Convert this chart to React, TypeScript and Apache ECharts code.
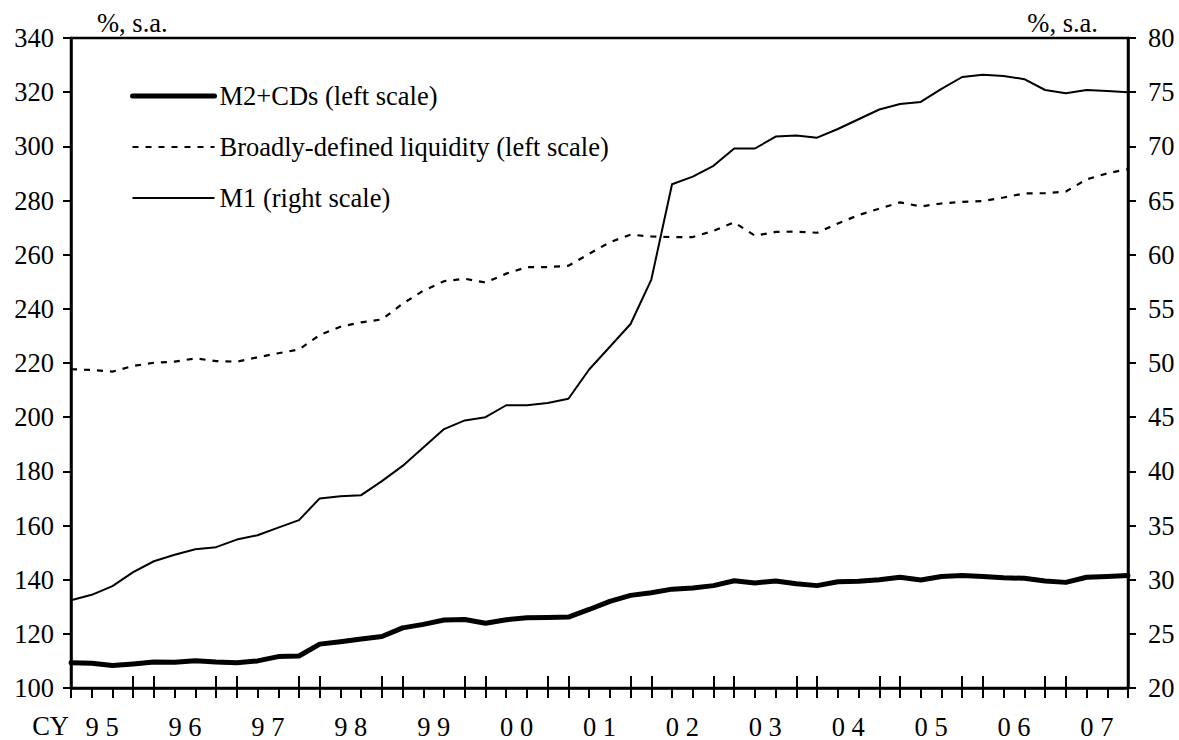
import React, { useEffect, useRef } from 'react';
import * as echarts from 'echarts';

const FONT = '"Liberation Serif", "Times New Roman", serif';
const FS = 26.5;

const years = ['1995', '1996', '1997', '1998', '1999', '2000', '2001', '2002', '2003', '2004', '2005', '2006', '2007'];
const quarterNames = ['Q1', 'Q2', 'Q3', 'Q4'];
const quarters = years.flatMap((y) => quarterNames.map((q) => `${y}${q}`));
const yearLabels = ['9 5', '9 6', '9 7', '9 8', '9 9', '0 0', '0 1', '0 2', '0 3', '0 4', '0 5', '0 6', '0 7'];

const seriesNames = ['M2+CDs (left scale)', 'Broadly-defined liquidity (left scale)', 'M1 (right scale)'];

const m2cds = [
  109.3, 109.1, 108.3, 108.9, 109.6, 109.5, 110.1, 109.6,
  109.3, 110.0, 111.6, 111.8, 116.2, 117.1, 118.1, 119.0,
  122.2, 123.5, 125.1, 125.3, 123.9, 125.2, 125.9, 126.0,
  126.2, 129.0, 132.0, 134.2, 135.2, 136.5, 136.9, 137.8,
  139.6, 138.8, 139.5, 138.5, 137.8, 139.2, 139.4, 140.0,
  140.9, 139.9, 141.2, 141.5, 141.2, 140.7, 140.5, 139.5,
  139.0, 140.9, 141.2, 141.5,
];

const broadLiquidity = [
  217.7, 217.4, 216.8, 218.9, 220.1, 220.5, 221.7, 220.7,
  220.5, 222.1, 223.6, 225.0, 230.3, 233.4, 235.0, 236.1,
  241.9, 246.7, 250.2, 251.1, 249.7, 253.0, 255.4, 255.4,
  255.9, 260.3, 264.6, 267.4, 266.7, 266.5, 266.5, 268.8,
  271.9, 267.0, 268.4, 268.5, 268.1, 271.5, 274.6, 277.0,
  279.3, 277.8, 278.9, 279.5, 279.8, 281.1, 282.6, 282.7,
  283.3, 287.8, 290.0, 291.6,
];

const m1 = [
  28.1, 28.6, 29.4, 30.7, 31.7, 32.3, 32.8, 33.0,
  33.7, 34.1, 34.8, 35.5, 37.5, 37.7, 37.8, 39.1,
  40.5, 42.2, 43.9, 44.7, 45.0, 46.1, 46.1, 46.3,
  46.7, 49.4, 51.5, 53.6, 57.7, 66.5, 67.2, 68.2,
  69.8, 69.8, 70.9, 71.0, 70.8, 71.6, 72.5, 73.4,
  73.9, 74.1, 75.3, 76.4, 76.6, 76.5, 76.2, 75.2,
  74.9, 75.2, 75.1, 75.0,
];

const leftScale = { min: 100, max: 340, step: 20 };
const rightScale = { min: 20, max: 80, step: 5 };
const unitLabel = '%, s.a.';
const axisPrefix = 'CY';

export default function App() {
  const ref = useRef<HTMLDivElement>(null);

  useEffect(() => {
    if (!ref.current) return;
    const chart = echarts.init(ref.current, null, { renderer: 'svg' });
    const black = '#000';
    const labelFont = { fontSize: FS, color: black, fontFamily: FONT };

    const option: any = {
      animation: false,
      backgroundColor: '#fff',
      textStyle: { fontFamily: FONT },
      grid: {
        left: 71,
        right: 51,
        top: 38,
        bottom: 52,
        show: true,
        borderColor: black,
        borderWidth: 2.5,
        containLabel: false,
      },
      legend: {
        orient: 'vertical',
        left: 130,
        top: 82.5,
        padding: 0,
        itemGap: 24,
        itemWidth: 82,
        itemHeight: 14,
        selectedMode: false,
        textStyle: { ...labelFont, padding: [0, 0, 0, 0] },
        data: [
          { name: seriesNames[0], lineStyle: { width: 5, color: black, type: 'solid' }, itemStyle: { opacity: 0 } },
          { name: seriesNames[1], lineStyle: { width: 2.2, color: black, type: [6, 7] }, itemStyle: { opacity: 0 } },
          { name: seriesNames[2], lineStyle: { width: 2, color: black, type: 'solid' }, itemStyle: { opacity: 0 } },
        ],
      },
      xAxis: [
        {
          type: 'category',
          data: quarters,
          boundaryGap: false,
          position: 'bottom',
          axisLine: { show: true, lineStyle: { color: black, width: 2.5 } },
          axisTick: { show: true, interval: 0, length: 10, lineStyle: { color: black, width: 2 } },
          axisLabel: { show: false },
          splitLine: { show: false },
        },
        {
          type: 'category',
          data: quarters,
          boundaryGap: false,
          position: 'bottom',
          axisLine: { show: false },
          axisTick: {
            show: true,
            inside: true,
            length: 12,
            interval: (i: number) => i > 0 && (i % 4 === 0 || i % 4 === 3),
            lineStyle: { color: black, width: 2 },
          },
          axisLabel: { show: false },
          splitLine: { show: false },
        },
        {
          type: 'value',
          min: 0,
          max: quarters.length - 1,
          interval: 0.5,
          position: 'bottom',
          axisLine: { show: false },
          axisTick: { show: false },
          splitLine: { show: false },
          axisLabel: {
            ...labelFont,
            margin: 25,
            formatter: (v: number) => {
              const k = (v - 1.5) / 4;
              return Number.isInteger(k) && k >= 0 && k < yearLabels.length ? yearLabels[k] : '';
            },
          },
        },
      ],
      yAxis: [
        {
          type: 'value',
          position: 'left',
          min: leftScale.min,
          max: leftScale.max,
          interval: leftScale.step,
          axisLine: { show: true, lineStyle: { color: black, width: 2.5 } },
          axisTick: { show: true, length: 8, lineStyle: { color: black, width: 2 } },
          axisLabel: { ...labelFont, margin: 17 },
          splitLine: { show: false },
        },
        {
          type: 'value',
          position: 'right',
          min: rightScale.min,
          max: rightScale.max,
          interval: rightScale.step,
          axisLine: { show: true, lineStyle: { color: black, width: 2.5 } },
          axisTick: { show: true, length: 8, lineStyle: { color: black, width: 2 } },
          axisLabel: { ...labelFont, margin: 20 },
          splitLine: { show: false },
        },
      ],
      series: [
        {
          name: seriesNames[0],
          type: 'line',
          xAxisIndex: 0,
          yAxisIndex: 0,
          data: m2cds,
          symbol: 'none',
          lineStyle: { color: black, width: 5, cap: 'round', join: 'round' },
          itemStyle: { color: black },
        },
        {
          name: seriesNames[1],
          type: 'line',
          xAxisIndex: 0,
          yAxisIndex: 0,
          data: broadLiquidity,
          symbol: 'none',
          lineStyle: { color: black, width: 2.2, type: [6, 7] },
          itemStyle: { color: black },
        },
        {
          name: seriesNames[2],
          type: 'line',
          xAxisIndex: 0,
          yAxisIndex: 1,
          data: m1,
          symbol: 'none',
          lineStyle: { color: black, width: 2, join: 'round' },
          itemStyle: { color: black },
        },
      ],
      graphic: [
        {
          type: 'text',
          x: 97,
          y: 23,
          style: { text: unitLabel, fill: black, font: `${FS}px ${FONT}`, textAlign: 'left', textVerticalAlign: 'middle', align: 'left', verticalAlign: 'middle' },
        },
        {
          type: 'text',
          x: 1098,
          y: 23,
          style: { text: unitLabel, fill: black, font: `${FS}px ${FONT}`, textAlign: 'right', textVerticalAlign: 'middle', align: 'right', verticalAlign: 'middle' },
        },
        {
          type: 'text',
          x: 69,
          y: 726,
          style: { text: axisPrefix, fill: black, font: `${FS}px ${FONT}`, textAlign: 'right', textVerticalAlign: 'middle', align: 'right', verticalAlign: 'middle' },
        },
      ],
    };

    chart.setOption(option);
    return () => chart.dispose();
  }, []);

  return (
    <div
      ref={ref}
      style={{ position: 'absolute', left: 0, top: 0, width: 1179, height: 740, background: '#fff' }}
    />
  );
}
